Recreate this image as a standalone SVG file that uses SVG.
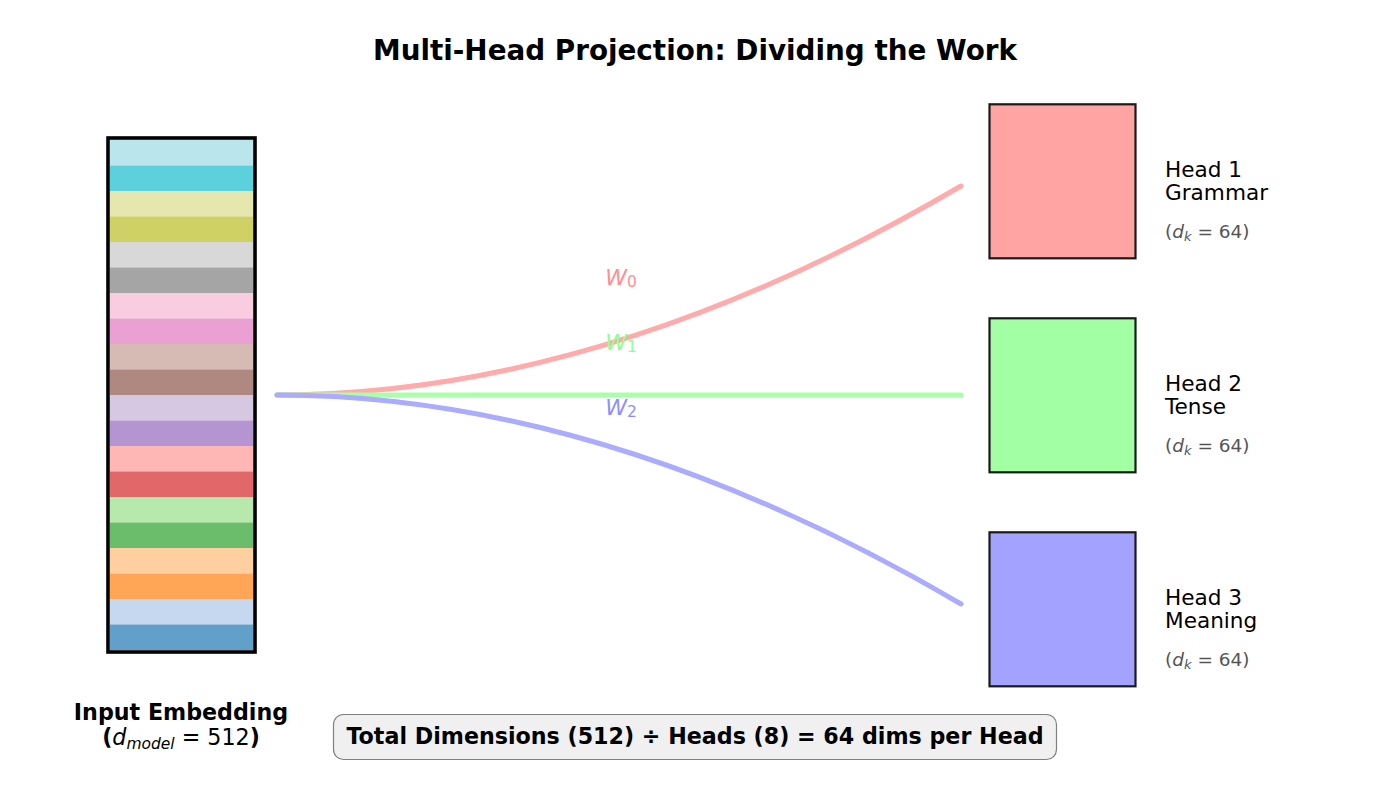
<svg xmlns="http://www.w3.org/2000/svg" width="1389" height="790" viewBox="0 0 1389 790">
<style>
text{font-family:"DejaVu Sans","Liberation Sans",sans-serif}
.title{font-size:27.8px;font-weight:bold;fill:#000}
.stripe{fill-opacity:0.7}
.head{stroke:#1a1a1a;stroke-width:2.2;fill-opacity:0.6}
.conn{fill:none;stroke-width:5;stroke-linecap:round}
.wlab{font-size:22px;text-anchor:middle}
.hl{font-size:21.6px;fill:#000}
.dk{font-size:18.5px;fill:#555555}
.it{font-style:italic}
.bold{font-size:22.2px;font-weight:bold;fill:#000}
</style>
<rect width="1389" height="790" fill="#ffffff"/>
<text class="title" x="695" y="60" text-anchor="middle">Multi-Head Projection: Dividing the Work</text>

<g id="input-embedding">
<rect class="stripe" x="110" y="140" width="143" height="25.5" fill="#9edae5"/>
<rect class="stripe" x="110" y="165.5" width="143" height="25.5" fill="#17becf"/>
<rect class="stripe" x="110" y="191" width="143" height="25.5" fill="#dbdb8d"/>
<rect class="stripe" x="110" y="216.5" width="143" height="25.5" fill="#bcbd22"/>
<rect class="stripe" x="110" y="242" width="143" height="25.5" fill="#c7c7c7"/>
<rect class="stripe" x="110" y="267.5" width="143" height="25.5" fill="#7f7f7f"/>
<rect class="stripe" x="110" y="293" width="143" height="25.5" fill="#f7b6d2"/>
<rect class="stripe" x="110" y="318.5" width="143" height="25.5" fill="#e377c2"/>
<rect class="stripe" x="110" y="344" width="143" height="25.5" fill="#c49c94"/>
<rect class="stripe" x="110" y="369.5" width="143" height="25.5" fill="#8c564b"/>
<rect class="stripe" x="110" y="395" width="143" height="25.5" fill="#c5b0d5"/>
<rect class="stripe" x="110" y="420.5" width="143" height="25.5" fill="#9467bd"/>
<rect class="stripe" x="110" y="446" width="143" height="25.5" fill="#ff9896"/>
<rect class="stripe" x="110" y="471.5" width="143" height="25.5" fill="#d62728"/>
<rect class="stripe" x="110" y="497" width="143" height="25.5" fill="#98df8a"/>
<rect class="stripe" x="110" y="522.5" width="143" height="25.5" fill="#2ca02c"/>
<rect class="stripe" x="110" y="548" width="143" height="25.5" fill="#ffbb78"/>
<rect class="stripe" x="110" y="573.5" width="143" height="25.5" fill="#ff7f0e"/>
<rect class="stripe" x="110" y="599" width="143" height="25.5" fill="#aec7e8"/>
<rect class="stripe" x="110" y="624.5" width="143" height="25.5" fill="#1f77b4"/>
<rect x="108" y="138" width="147" height="514" fill="none" stroke="#000" stroke-width="3.6"/>
<text class="bold" x="181" y="720" text-anchor="middle">Input Embedding</text>
<text class="bold" x="181" y="745" text-anchor="middle">(<tspan class="it" font-weight="normal">d</tspan><tspan class="it" font-weight="normal" font-size="15.5px" dy="3.5">model</tspan><tspan font-weight="normal" dy="-3.5"> = 512</tspan>)</text>
</g>

<g id="connectors">
<path class="conn" d="M277,395 Q605,395 961,186" stroke="#ffabab"/>
<path class="conn" d="M277,395 L961,395" stroke="#abffab"/>
<path class="conn" d="M277,395 Q605,395 961,604" stroke="#ababff"/>
<text class="wlab" x="621" y="285" fill="#ff8f8f"><tspan class="it">W</tspan><tspan font-size="15.5px" dy="2">0</tspan></text>
<text class="wlab" x="621" y="350" fill="#8fff8f"><tspan class="it">W</tspan><tspan font-size="15.5px" dy="2">1</tspan></text>
<text class="wlab" x="621" y="415" fill="#8f8fff"><tspan class="it">W</tspan><tspan font-size="15.5px" dy="2">2</tspan></text>
</g>

<g id="head1">
<rect class="head" x="989.5" y="104.3" width="146" height="154" fill="#ff6666"/>
<text class="hl" x="1165" y="177">Head 1</text>
<text class="hl" x="1165" y="200">Grammar</text>
<text class="dk" x="1165" y="238">(<tspan class="it">d</tspan><tspan class="it" font-size="13px" dy="3">k</tspan><tspan dy="-3"> = 64)</tspan></text>
</g>
<g id="head2">
<rect class="head" x="989.5" y="318.3" width="146" height="154" fill="#66ff66"/>
<text class="hl" x="1165" y="391">Head 2</text>
<text class="hl" x="1165" y="414">Tense</text>
<text class="dk" x="1165" y="452">(<tspan class="it">d</tspan><tspan class="it" font-size="13px" dy="3">k</tspan><tspan dy="-3"> = 64)</tspan></text>
</g>
<g id="head3">
<rect class="head" x="989.5" y="532.3" width="146" height="154" fill="#6666ff"/>
<text class="hl" x="1165" y="605">Head 3</text>
<text class="hl" x="1165" y="628">Meaning</text>
<text class="dk" x="1165" y="666">(<tspan class="it">d</tspan><tspan class="it" font-size="13px" dy="3">k</tspan><tspan dy="-3"> = 64)</tspan></text>
</g>

<g id="summary">
<rect x="333.5" y="714.5" width="723" height="45" rx="10" fill="#f0f0f0" stroke="#808080" stroke-width="1.2"/>
<text class="bold" x="695" y="744" text-anchor="middle">Total Dimensions (512) ÷ Heads (8) = 64 dims per Head</text>
</g>
</svg>
